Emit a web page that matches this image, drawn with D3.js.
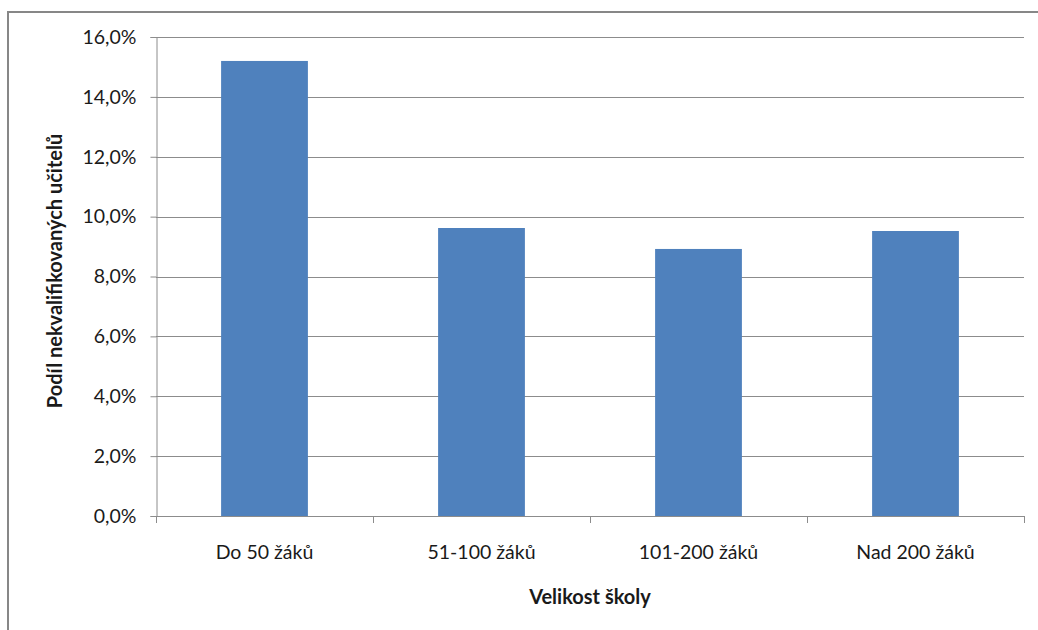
<!DOCTYPE html>
<html><head><meta charset="utf-8">
<script src="https://cdn.jsdelivr.net/npm/d3@7"></script>
<style>body{margin:0;background:#fff}svg{display:block}text{font-family:Lato,"Open Sans",sans-serif;fill:#1a1a1a}</style>
</head><body><svg id="c" width="1038" height="630"></svg>
<script>
(function () {
const categories = ["Do 50 žáků", "51-100 žáků", "101-200 žáků", "Nad 200 žáků"];
const values = [0.152, 0.0962, 0.0892, 0.0952];
const yTicks = [0, 0.02, 0.04, 0.06, 0.08, 0.10, 0.12, 0.14, 0.16];
const xTitle = "Velikost školy";
const yTitle = "Podíl nekvalifikovaných učitelů";

const svg = d3.select("#c");
svg.append("rect").attr("x", 8).attr("y", 12).attr("width", 1100).attr("height", 700)
  .attr("fill", "none").attr("stroke", "#878787").attr("stroke-width", 2);

const pL = 156, pR = 1024, pT = 37, pB = 516;
const x = d3.scaleBand().domain(categories).range([pL, pR]).paddingInner(0.6).paddingOuter(0.3);
const y = d3.scaleLinear().domain([0, 0.16]).range([pB, pT]);
const fmt = v => d3.format(".1f")(v * 100).replace(".", ",") + "%";

// gridlines
svg.append("g").selectAll("line").data(yTicks.filter(d => d > 0)).join("line")
  .attr("x1", pL).attr("x2", pR).attr("y1", d => Math.round(y(d)) + 0.5).attr("y2", d => Math.round(y(d)) + 0.5)
  .attr("stroke", "#8c8c8c").attr("stroke-width", 1);

// y axis
const ya = svg.append("g").attr("transform", `translate(${pL + 0.5},0)`)
  .call(d3.axisLeft(y).tickValues(yTicks).tickFormat(fmt).tickSize(6).tickPadding(14));
ya.select(".domain").attr("stroke", "#8c8c8c");
ya.selectAll(".tick line").attr("stroke", "#8c8c8c");
ya.selectAll(".tick text").attr("font-size", 19.5).attr("font-family", "Lato, 'Open Sans', sans-serif").attr("fill", "#1a1a1a");

// bars
svg.append("g").selectAll("rect").data(values).join("rect")
  .attr("x", (d, i) => x(categories[i])).attr("width", x.bandwidth())
  .attr("y", d => y(d)).attr("height", d => pB - y(d)).attr("fill", "#4F81BD");

// x axis
const bounds = d3.range(categories.length + 1).map(i => pL + i * (pR - pL) / categories.length);
const xa = svg.append("g");
xa.append("line").attr("x1", pL).attr("x2", pR).attr("y1", pB + 0.5).attr("y2", pB + 0.5).attr("stroke", "#8c8c8c");
xa.selectAll(".tk").data(bounds).join("line").attr("class", "tk")
  .attr("x1", d => Math.round(d) + 0.5).attr("x2", d => Math.round(d) + 0.5).attr("y1", pB).attr("y2", pB + 7).attr("stroke", "#8c8c8c");
xa.selectAll("text").data(categories).join("text")
  .attr("x", d => x(d) + x.bandwidth() / 2).attr("y", 559).attr("text-anchor", "middle").attr("font-size", 19.5).text(d => d);

svg.append("text").attr("x", 590).attr("y", 604).attr("text-anchor", "middle")
  .attr("font-size", 20).attr("font-weight", "bold").text(xTitle);
svg.append("text").attr("transform", "translate(62,271) rotate(-90)").attr("text-anchor", "middle")
  .attr("font-size", 20).attr("font-weight", "bold").text(yTitle);
})();
</script></body></html>
